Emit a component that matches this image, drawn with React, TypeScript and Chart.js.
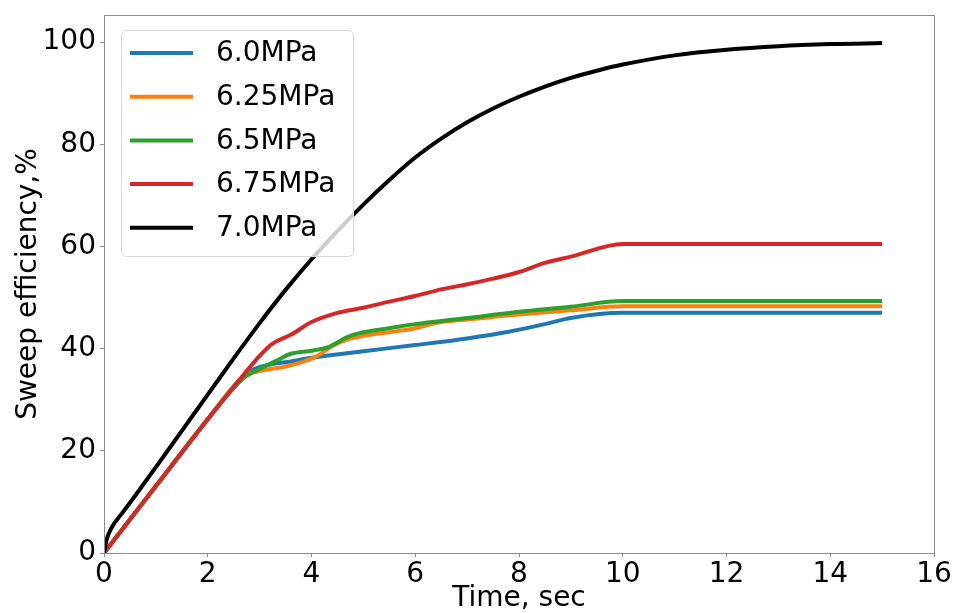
import React, { useEffect, useRef } from "react";
import { Chart, registerables } from "chart.js";

Chart.register(...registerables);

const seriesLabels = ["6.0MPa", "6.25MPa", "6.5MPa", "6.75MPa", "7.0MPa"];
const seriesColors = ["#1f77b4", "#ff7f0e", "#2ca02c", "#d62728", "#000000"];

const t60 = [0, 1, 2, 2.7, 2.9, 3.2, 3.6, 4, 5, 6, 7, 7.8, 8.5, 9, 10, 15];
const v60 = [0, 13.1, 26.2, 34.8, 36.0, 36.9, 37.5, 38.2, 39.5, 40.7, 42, 43.3, 44.8, 46, 47, 47];

const t625 = [0, 1, 2, 2.7, 3, 3.5, 3.8, 4.1, 4.4, 4.7, 5, 5.5, 6, 6.4, 7, 8, 9, 10, 15];
const v625 = [0, 13.1, 26.2, 34.6, 35.6, 36.5, 37.3, 38.5, 40.5, 41.8, 42.5, 43.2, 44, 45, 45.7, 46.7, 47.5, 48.3, 48.3];

const t65 = [0, 1, 2, 2.7, 3, 3.3, 3.6, 4, 4.35, 4.7, 5, 5.5, 6, 6.5, 7, 8, 9, 10, 15];
const v65 = [0, 13.1, 26.2, 34.3, 36, 37.5, 39, 39.6, 40.4, 42.3, 43.2, 44, 44.8, 45.4, 46, 47.2, 48.2, 49.3, 49.3];

const t675 = [0, 1, 2, 2.7, 3, 3.25, 3.6, 4, 4.5, 5, 5.5, 6, 6.5, 7, 7.5, 8, 8.5, 9, 10, 15];
const v675 = [0, 13.1, 26.2, 35.0, 38.6, 41, 42.7, 45.2, 47, 48, 49.2, 50.3, 51.6, 52.6, 53.7, 55, 56.8, 58, 60.5, 60.5];

const t70 = [0, 0.05, 0.15, 0.35, 0.6, 1, 1.5, 2, 2.5, 3, 3.5, 4, 4.5, 5, 5.5, 6, 6.5, 7, 7.5, 8, 8.5, 9, 9.5, 10, 11, 12, 13, 14, 15];
const v70 = [0, 2.6, 5.0, 7.8, 11.2, 16.8, 23.9, 31.0, 38.1, 45.0, 51.5, 57.5, 63.0, 68.2, 73.0, 77.4, 81.1, 84.3, 87.0, 89.3, 91.3, 93.0, 94.4, 95.6, 97.4, 98.5, 99.2, 99.6, 99.8];

const seriesT = [t60, t625, t65, t675, t70];
const seriesV = [v60, v625, v65, v675, v70];

const xTickValues = [0, 2, 4, 6, 8, 10, 12, 14, 16];
const yTickValues = [0, 20, 40, 60, 80, 100];

const FONT = "'DejaVu Sans', sans-serif";

export default function App() {
  const ref = useRef<HTMLCanvasElement | null>(null);

  useEffect(() => {
    document.body.style.margin = "0";
    const canvas = ref.current;
    if (!canvas) return;

    const frame = {
      id: "frame",
      afterDatasetsDraw(chart: any) {
        const { ctx, chartArea } = chart;
        ctx.save();
        ctx.strokeStyle = "#8c8c8c";
        ctx.lineWidth = 1;
        ctx.strokeRect(
          Math.round(chartArea.left) + 0.5,
          Math.round(chartArea.top) + 0.5,
          Math.round(chartArea.right - chartArea.left),
          Math.round(chartArea.bottom - chartArea.top)
        );
        ctx.restore();
      },
    };

    const legendBox = {
      id: "legendBox",
      afterDraw(chart: any) {
        const { ctx, chartArea } = chart;
        const x0 = chartArea.left + 17;
        const y0 = chartArea.top + 15;
        const w = 232;
        const h = 226;
        ctx.save();
        ctx.beginPath();
        (ctx as any).roundRect(x0 + 0.5, y0 + 0.5, w, h, 5);
        ctx.fillStyle = "rgba(255,255,255,0.8)";
        ctx.fill();
        ctx.strokeStyle = "#d9d9d9";
        ctx.lineWidth = 1;
        ctx.stroke();
        ctx.font = "28px " + FONT;
        ctx.textBaseline = "middle";
        ctx.fillStyle = "#000";
        seriesLabels.forEach((lab, i) => {
          const yy = y0 + 23 + i * 43.7;
          ctx.beginPath();
          ctx.moveTo(x0 + 9, yy);
          ctx.lineTo(x0 + 72, yy);
          ctx.strokeStyle = seriesColors[i];
          ctx.lineWidth = 4;
          ctx.stroke();
          ctx.fillText(lab, x0 + 95, yy + 1);
        });
        ctx.restore();
      },
    };

    const datasets = seriesLabels.map((lab, i) => ({
      label: lab,
      data: seriesT[i].map((t, j) => ({ x: t, y: seriesV[i][j] })),
      borderColor: seriesColors[i],
      backgroundColor: seriesColors[i],
      borderWidth: 4,
      pointRadius: 0,
      fill: false,
      cubicInterpolationMode: "monotone" as const,
      order: seriesLabels.length - 1 - i,
    }));

    const chart = new Chart(canvas, {
      type: "line",
      data: { datasets },
      plugins: [frame, legendBox],
      options: {
        animation: false,
        responsive: false,
        maintainAspectRatio: false,
        layout: { padding: { top: 15, right: 19, left: 0, bottom: 0 } },
        plugins: { legend: { display: false }, tooltip: { enabled: false } },
        scales: {
          x: {
            type: "linear",
            min: 0,
            max: 16,
            afterBuildTicks: (s: any) => {
              s.ticks = xTickValues.map((v) => ({ value: v }));
            },
            afterFit: (s: any) => {
              s.height = 60;
              s.paddingLeft = 0;
              s.paddingRight = 0;
            },
            ticks: {
              color: "#000",
              font: { family: FONT, size: 28, lineHeight: 1 },
              padding: 4,
              maxRotation: 0,
              autoSkip: false,
            },
            grid: { display: true, drawOnChartArea: false, tickLength: 4, color: "#8c8c8c" },
            border: { display: false },
            title: {
              display: true,
              text: "Time, sec",
              color: "#000",
              font: { family: FONT, size: 28, lineHeight: 1 },
              padding: { top: 0, bottom: 0 },
            },
          },
          y: {
            type: "linear",
            min: 0,
            max: 105.3,
            afterBuildTicks: (s: any) => {
              s.ticks = yTickValues.map((v) => ({ value: v }));
            },
            afterFit: (s: any) => {
              s.width = 104;
              s.paddingTop = 0;
              s.paddingBottom = 0;
            },
            ticks: {
              color: "#000",
              font: { family: FONT, size: 28, lineHeight: 1 },
              padding: 4,
              autoSkip: false,
            },
            grid: { display: true, drawOnChartArea: false, tickLength: 4, color: "#8c8c8c" },
            border: { display: false },
            title: {
              display: true,
              text: "Sweep efficiency,%",
              color: "#000",
              font: { family: FONT, size: 28, lineHeight: 1 },
              padding: { top: 15, bottom: 0 },
            },
          },
        },
      },
    });
    return () => chart.destroy();
  }, []);

  return (
    <div style={{ width: 953, height: 613, position: "relative", background: "#fff" }}>
      <canvas ref={ref} width={953} height={613} style={{ display: "block", width: 953, height: 613 }} />
    </div>
  );
}
